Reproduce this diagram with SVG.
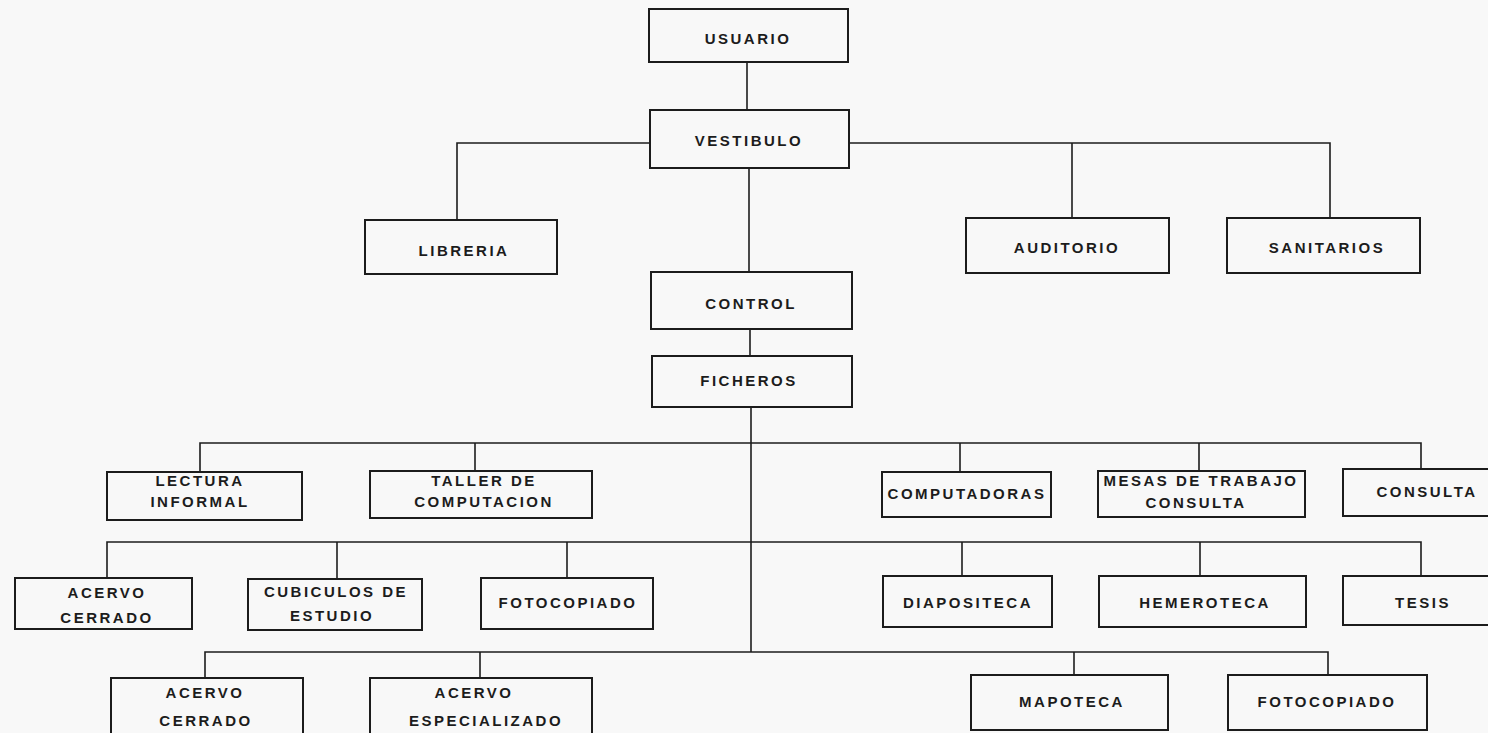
<svg xmlns="http://www.w3.org/2000/svg" width="1488" height="733" viewBox="0 0 1488 733">
<style>
.box{fill:none;stroke:#1c1c1c;stroke-width:2}
.wire{fill:none;stroke:#1c1c1c;stroke-width:1.6}
text{font-family:"Liberation Sans",Arial,sans-serif;font-size:15px;font-weight:bold;letter-spacing:2.5px;fill:#1c1c1c;text-anchor:middle}
</style>
<rect x="0" y="0" width="1488" height="733" fill="#f8f8f8"/>
<g id="connectors">
<path class="wire" d="M747,62 V110"/>
<path class="wire" d="M650,143 H457 V220"/>
<path class="wire" d="M849,143 H1330 V218"/>
<path class="wire" d="M1072,143 V218"/>
<path class="wire" d="M749,168 V272"/>
<path class="wire" d="M750,329 V356"/>
<path class="wire" d="M751,407 V652"/>
<path class="wire" d="M200,472 V443 H1421 V469"/>
<path class="wire" d="M475,443 V471"/>
<path class="wire" d="M960,443 V472"/>
<path class="wire" d="M1199,443 V471"/>
<path class="wire" d="M107,578 V542 H1421 V576"/>
<path class="wire" d="M337,542 V579"/>
<path class="wire" d="M567,542 V578"/>
<path class="wire" d="M962,542 V576"/>
<path class="wire" d="M1200,542 V576"/>
<path class="wire" d="M205,678 V652 H1328 V675"/>
<path class="wire" d="M480,652 V678"/>
<path class="wire" d="M1074,652 V675"/>
</g>
<g id="usuario"><rect class="box" x="649" y="9" width="199" height="53"/><text x="748" y="44">USUARIO</text></g>
<g id="vestibulo"><rect class="box" x="650" y="110" width="199" height="58"/><text x="749" y="146">VESTIBULO</text></g>
<g id="libreria"><rect class="box" x="365" y="220" width="192" height="54"/><text x="464" y="256">LIBRERIA</text></g>
<g id="auditorio"><rect class="box" x="966" y="218" width="203" height="55"/><text x="1067" y="253">AUDITORIO</text></g>
<g id="sanitarios"><rect class="box" x="1227" y="218" width="193" height="55"/><text x="1327" y="253">SANITARIOS</text></g>
<g id="control"><rect class="box" x="651" y="272" width="201" height="57"/><text x="751" y="309">CONTROL</text></g>
<g id="ficheros"><rect class="box" x="652" y="356" width="200" height="51"/><text x="749" y="386">FICHEROS</text></g>
<g id="lectura"><rect class="box" x="107" y="472" width="195" height="48"/><text x="200" y="486">LECTURA</text><text x="200" y="507">INFORMAL</text></g>
<g id="taller"><rect class="box" x="370" y="471" width="222" height="47"/><text x="484" y="486">TALLER DE</text><text x="484" y="507">COMPUTACION</text></g>
<g id="computadoras"><rect class="box" x="882" y="472" width="169" height="45"/><text x="967" y="499">COMPUTADORAS</text></g>
<g id="mesas"><rect class="box" x="1098" y="471" width="207" height="46"/><text x="1201" y="486">MESAS DE TRABAJO</text><text x="1196" y="508">CONSULTA</text></g>
<g id="consulta"><rect class="box" x="1343" y="469" width="152" height="47"/><text x="1427" y="497">CONSULTA</text></g>
<g id="acervo-cerrado-1"><rect class="box" x="15" y="578" width="177" height="51"/><text x="107" y="598">ACERVO</text><text x="107" y="623">CERRADO</text></g>
<g id="cubiculos"><rect class="box" x="248" y="579" width="174" height="51"/><text x="336" y="597">CUBICULOS DE</text><text x="332" y="621">ESTUDIO</text></g>
<g id="fotocopiado-1"><rect class="box" x="481" y="578" width="172" height="51"/><text x="568" y="608">FOTOCOPIADO</text></g>
<g id="diapositeca"><rect class="box" x="883" y="576" width="169" height="51"/><text x="968" y="608">DIAPOSITECA</text></g>
<g id="hemeroteca"><rect class="box" x="1099" y="576" width="207" height="51"/><text x="1205" y="608">HEMEROTECA</text></g>
<g id="tesis"><rect class="box" x="1343" y="576" width="152" height="49"/><text x="1423" y="608">TESIS</text></g>
<g id="acervo-cerrado-2"><rect class="box" x="111" y="678" width="192" height="62"/><text x="205" y="698">ACERVO</text><text x="206" y="726">CERRADO</text></g>
<g id="acervo-especializado"><rect class="box" x="370" y="678" width="222" height="62"/><text x="474" y="698">ACERVO</text><text x="486" y="726">ESPECIALIZADO</text></g>
<g id="mapoteca"><rect class="box" x="971" y="675" width="197" height="55"/><text x="1072" y="707">MAPOTECA</text></g>
<g id="fotocopiado-2"><rect class="box" x="1228" y="675" width="199" height="55"/><text x="1327" y="707">FOTOCOPIADO</text></g>
</svg>
